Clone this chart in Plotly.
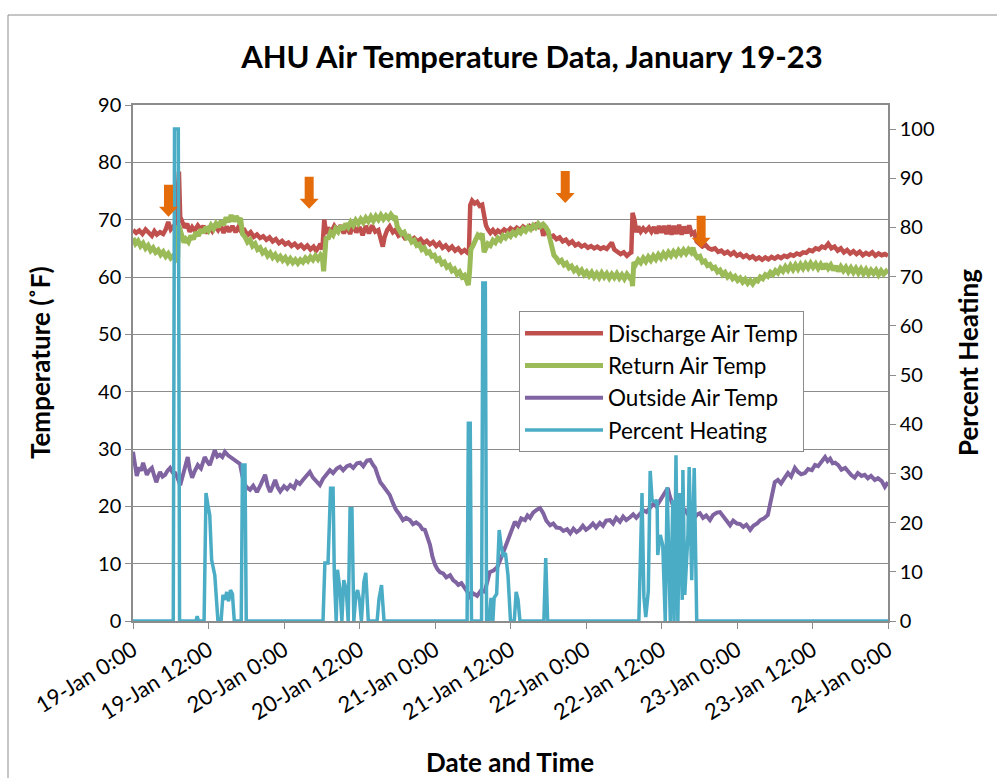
import pandas as pd
import plotly.graph_objects as go

START = pd.Timestamp("2014-01-19 00:00")

# ---- data: (hours after 19-Jan 0:00, value) ----
discharge = [(0,68.2),(0.5,67.7),(1,68.1),(1.5,67.5),(2,68.3),(2.5,67.6),(3,67.2),(3.4,68.0),(3.8,67.4),(4.3,67.8),(4.8,67.5),(5.2,68.3),(5.6,69.6),(6.0,68.3),(6.4,68.8),(6.8,68.2),(7.1,75.0),(7.3,78.4),(7.5,70.5),(7.8,69.4),(8.2,68.6),(8.6,69.3),(9.0,67.9),(9.4,68.7),(9.8,68.1),(10.3,69.0),(10.8,68.3),(11.2,68.9),(11.7,67.6),(12.1,68.8),(12.6,68.0),(13.0,68.9),(13.5,68.2),(13.9,69.1),(14.4,67.7),(14.9,68.8),(15.3,67.9),(15.8,68.9),(16.3,67.8),(16.7,68.6),(17.2,67.9),(17.7,68.2),(18.2,67.3),(18.7,67.8),(19.2,67.0),(19.7,67.4),(20.2,66.8),(20.7,67.1),(21.2,66.5),(21.7,66.9),(22.2,66.2),(22.7,66.6),(23.2,65.9),(23.7,66.3),(24.2,65.7),(24.7,66.0),(25.2,65.4),(25.7,65.8),(26.2,65.2),(26.7,65.6),(27.2,65.0),(27.7,65.5),(28.2,64.8),(28.7,65.3),(29.1,64.6),(29.5,65.2),(29.8,65.8),(30.1,64.8),(30.4,70.0),(30.7,67.5),(31.0,68.6),(31.5,67.8),(32.0,68.9),(32.5,68.1),(33.0,69.0),(33.5,67.6),(34.0,68.8),(34.5,67.5),(35.0,69.1),(35.5,67.8),(36.0,68.7),(36.5,67.3),(37.0,68.9),(37.5,67.6),(38.0,69.0),(38.5,67.9),(39.0,68.2),(39.4,66.5),(39.7,65.3),(40.0,67.0),(40.4,68.2),(40.8,68.8),(41.3,67.8),(41.7,68.2),(42.2,67.2),(42.7,67.6),(43.2,66.8),(43.7,67.1),(44.2,66.4),(44.7,66.8),(45.2,66.2),(45.7,66.6),(46.2,65.9),(46.7,66.3),(47.2,65.7),(47.7,66.1),(48.2,65.4),(48.7,65.9),(49.2,65.1),(49.7,65.5),(50.2,64.8),(50.7,65.3),(51.2,64.6),(51.7,65.0),(52.2,64.3),(52.7,64.7),(53.1,64.3),(53.4,64.8),(53.6,72.5),(53.9,73.3),(54.3,72.8),(54.7,73.1),(55.1,72.4),(55.5,72.6),(55.8,70.8),(56.1,69.0),(56.4,68.3),(56.8,67.7),(57.2,68.2),(57.6,67.6),(58.0,68.1),(58.5,67.7),(59.0,68.3),(59.5,67.9),(60.0,68.5),(60.5,68.1),(61.0,68.6),(61.5,68.2),(62.0,68.8),(62.5,68.4),(63.0,68.9),(63.5,68.5),(64.0,69.1),(64.5,68.7),(64.9,69.0),(65.2,67.2),(65.5,68.2),(65.9,67.4),(66.3,67.0),(66.8,67.2),(67.3,66.6),(67.8,66.9),(68.3,66.2),(68.8,66.5),(69.3,65.8),(69.8,66.2),(70.3,65.5),(70.8,65.8),(71.3,65.3),(71.8,65.6),(72.3,65.1),(72.8,65.4),(73.3,65.0),(73.8,65.3),(74.3,64.9),(74.8,65.2),(75.3,64.9),(75.8,65.6),(76.1,66.0),(76.5,64.8),(77.0,64.4),(77.5,64.0),(78.0,64.3),(78.5,63.7),(78.9,64.1),(79.2,64.3),(79.4,71.2),(79.7,70.0),(80.0,67.8),(80.3,68.8),(80.7,67.9),(81.1,68.5),(81.5,68.0),(82.0,68.6),(82.4,67.9),(82.8,68.7),(83.2,67.6),(83.6,68.9),(84.0,67.7),(84.4,68.9),(84.8,67.5),(85.2,69.0),(85.6,67.4),(86.0,68.9),(86.4,67.5),(86.8,69.1),(87.2,67.4),(87.6,68.8),(88.0,67.6),(88.4,69.0),(88.8,67.5),(89.2,67.8),(89.6,66.2),(90.0,65.9),(90.5,65.3),(91.0,65.6),(91.5,65.0),(92.0,64.8),(92.5,65.0),(93.0,64.4),(93.5,64.6),(94.0,64.1),(94.5,64.4),(95.0,63.9),(95.5,64.3),(96.0,63.7),(96.5,64.0),(97.0,63.5),(97.5,63.8),(98.0,63.3),(98.5,63.6),(99.0,63.1),(99.5,63.4),(100.0,63.0),(100.5,63.4),(101.0,63.1),(101.5,63.5),(102.0,63.2),(102.5,63.6),(103.0,63.3),(103.5,63.7),(104.0,63.5),(104.5,63.9),(105.0,63.7),(105.5,64.1),(106.0,63.9),(106.5,64.3),(107.0,64.2),(107.5,64.7),(108.0,64.5),(108.5,65.0),(109.0,64.8),(109.5,65.3),(110.0,65.1),(110.5,65.8),(111.0,65.0),(111.5,65.3),(112.0,64.6),(112.5,65.0),(113.0,64.3),(113.5,64.7),(114.0,64.1),(114.5,64.5),(115.0,64.0),(115.5,64.4),(116.0,63.8),(116.5,64.2),(117.0,63.9),(117.5,64.3),(118.0,63.7),(118.5,64.1),(119.0,63.8),(119.5,64.0),(120.0,63.7)]

return_air = [(0,66.8),(0.4,65.8),(0.8,66.3),(1.2,65.4),(1.6,65.9),(2.0,65.0),(2.4,65.5),(2.8,64.6),(3.2,65.1),(3.6,64.3),(4.0,64.7),(4.4,63.9),(4.8,64.4),(5.2,63.6),(5.6,64.1),(6.0,63.3),(6.4,63.7),(6.8,63.0),(7.1,63.4),(7.25,69.0),(7.5,68.2),(7.8,66.8),(8.1,66.0),(8.4,66.6),(8.8,66.1),(9.2,67.2),(9.6,66.6),(10.0,67.8),(10.4,67.2),(10.8,68.3),(11.2,67.7),(11.6,68.7),(12.0,68.1),(12.4,69.0),(12.8,68.4),(13.2,69.3),(13.6,68.7),(14.0,69.8),(14.4,69.1),(14.8,70.4),(15.2,69.6),(15.6,70.8),(16.0,69.7),(16.4,70.6),(16.8,69.8),(17.1,70.3),(17.4,67.5),(17.8,67.0),(18.2,66.1),(18.6,66.5),(19.0,65.4),(19.4,65.8),(19.8,64.8),(20.2,65.1),(20.6,64.2),(21.0,64.6),(21.4,63.7),(21.8,64.2),(22.2,63.4),(22.6,63.9),(23.0,63.1),(23.4,63.6),(23.8,62.9),(24.2,63.4),(24.6,62.6),(25.0,63.2),(25.4,62.5),(25.8,63.0),(26.2,62.4),(26.6,63.0),(27.0,62.6),(27.4,63.3),(27.8,62.8),(28.2,63.5),(28.6,63.0),(29.0,63.7),(29.4,63.1),(29.8,63.8),(30.1,63.3),(30.3,61.0),(30.5,64.5),(30.7,67.0),(31.0,66.6),(31.4,67.8),(31.8,67.3),(32.2,68.4),(32.6,67.9),(33.0,68.9),(33.4,68.3),(33.8,69.3),(34.2,68.7),(34.6,69.6),(35.0,69.0),(35.4,69.9),(35.8,69.3),(36.2,70.1),(36.6,69.5),(37.0,70.3),(37.4,69.7),(37.8,70.5),(38.2,69.8),(38.6,70.6),(39.0,70.0),(39.4,70.8),(39.8,70.1),(40.2,70.7),(40.6,70.2),(41.0,70.9),(41.4,70.3),(41.7,70.6),(42.0,68.8),(42.3,68.0),(42.7,67.5),(43.1,67.8),(43.5,66.8),(43.9,67.0),(44.3,66.1),(44.7,66.4),(45.1,65.5),(45.5,65.7),(45.9,64.8),(46.3,65.1),(46.7,64.2),(47.1,64.4),(47.5,63.6),(47.9,63.8),(48.3,62.9),(48.7,63.2),(49.1,62.3),(49.5,62.6),(49.9,61.7),(50.3,62.0),(50.7,61.1),(51.1,61.4),(51.5,60.5),(51.9,60.9),(52.3,60.0),(52.7,60.3),(53.0,59.3),(53.3,58.6),(53.5,61.0),(53.7,64.8),(54.0,65.4),(54.4,66.3),(54.8,67.3),(55.2,66.9),(55.5,67.6),(55.8,64.3),(56.1,65.1),(56.4,65.8),(56.8,65.5),(57.2,66.4),(57.6,66.0),(58.0,66.8),(58.4,66.4),(58.8,67.2),(59.2,66.8),(59.6,67.5),(60.0,67.1),(60.4,67.8),(60.8,67.4),(61.2,68.1),(61.6,67.7),(62.0,68.4),(62.4,68.0),(62.8,68.7),(63.2,68.3),(63.6,69.0),(64.0,68.6),(64.4,69.3),(64.8,68.8),(65.2,69.2),(65.6,68.7),(66.0,68.0),(66.3,66.5),(66.6,65.0),(66.9,63.8),(67.3,63.3),(67.7,62.6),(68.1,62.9),(68.5,62.1),(68.9,62.4),(69.3,61.6),(69.7,61.9),(70.1,61.1),(70.5,61.5),(70.9,60.7),(71.3,61.2),(71.7,60.4),(72.1,60.9),(72.5,60.2),(72.9,60.8),(73.3,60.0),(73.7,60.6),(74.1,59.9),(74.5,60.7),(74.9,60.0),(75.3,60.6),(75.7,59.8),(76.1,60.5),(76.5,59.9),(76.9,60.6),(77.3,59.8),(77.7,60.4),(78.1,59.7),(78.5,60.5),(78.9,59.9),(79.2,60.2),(79.4,58.4),(79.6,62.6),(79.9,62.2),(80.3,63.0),(80.7,62.5),(81.1,63.3),(81.5,62.7),(81.9,63.5),(82.3,62.9),(82.7,63.7),(83.1,63.1),(83.5,63.9),(83.9,63.3),(84.3,64.1),(84.7,63.5),(85.1,64.3),(85.5,63.7),(85.9,64.4),(86.3,63.8),(86.7,64.6),(87.1,64.0),(87.5,64.7),(87.9,64.1),(88.3,64.8),(88.7,64.3),(89.0,65.1),(89.3,64.0),(89.7,63.4),(90.1,63.6),(90.5,62.6),(90.9,62.8),(91.3,62.0),(91.7,62.2),(92.1,61.5),(92.5,61.7),(92.9,60.9),(93.3,61.2),(93.7,60.4),(94.1,60.8),(94.5,60.0),(94.9,60.4),(95.3,59.7),(95.7,60.1),(96.1,59.4),(96.5,59.8),(96.9,59.1),(97.3,59.6),(97.7,58.9),(98.1,59.4),(98.5,58.8),(98.9,59.5),(99.3,59.3),(99.7,60.0),(100.1,59.7),(100.5,60.4),(100.9,60.1),(101.3,60.8),(101.7,60.4),(102.1,61.1),(102.5,60.7),(102.9,61.5),(103.3,61.0),(103.7,61.8),(104.1,61.2),(104.5,62.0),(104.9,61.3),(105.3,62.1),(105.7,61.4),(106.1,62.2),(106.5,61.5),(106.9,62.3),(107.3,61.6),(107.7,62.4),(108.1,61.7),(108.5,62.3),(108.9,61.5),(109.3,62.2),(109.7,61.4),(110.1,62.3),(110.5,61.5),(110.9,62.1),(111.3,61.2),(111.7,61.9),(112.1,61.0),(112.5,61.8),(112.9,61.1),(113.3,61.7),(113.7,60.9),(114.1,61.6),(114.5,60.8),(114.9,61.5),(115.3,60.7),(115.7,61.4),(116.1,60.6),(116.5,61.3),(116.9,60.5),(117.3,61.2),(117.7,60.6),(118.1,61.2),(118.5,60.4),(118.9,61.1),(119.3,60.5),(119.7,61.0),(120,60.6)]

outside_air = [(0,29.5),(0.3,27.0),(0.6,25.3),(1.0,26.8),(1.3,26.2),(1.6,27.6),(1.9,26.5),(2.2,25.5),(2.6,26.3),(3.0,26.7),(3.3,25.6),(3.7,24.2),(4.0,25.2),(4.3,26.0),(4.7,25.2),(5.1,25.5),(5.5,26.2),(5.9,26.7),(6.3,25.9),(6.7,25.8),(7.1,24.9),(7.5,23.7),(7.9,25.3),(8.3,27.2),(8.7,28.6),(9.0,26.5),(9.4,25.0),(9.8,26.1),(10.3,27.2),(10.8,26.6),(11.4,28.6),(11.8,27.8),(12.2,27.2),(12.6,28.5),(13.0,29.8),(13.4,28.7),(13.8,29.0),(14.2,28.6),(14.6,29.5),(15.1,28.9),(15.7,28.4),(16.3,28.0),(17.0,27.4),(17.4,25.2),(17.8,23.7),(18.2,23.2),(18.6,22.9),(19.1,23.6),(19.7,22.5),(20.3,23.8),(21.0,25.5),(21.4,23.6),(21.8,22.5),(22.2,23.5),(22.6,24.6),(23.0,23.3),(23.4,22.6),(24.0,23.5),(24.5,23.0),(25.0,23.7),(25.6,23.2),(26.0,24.3),(26.5,23.9),(27.0,24.6),(27.5,25.2),(28.1,26.0),(28.6,25.0),(29.1,24.3),(29.7,23.7),(30.2,24.8),(30.7,25.4),(31.3,26.3),(31.8,25.8),(32.4,26.6),(32.9,26.9),(33.4,26.3),(34.0,27.0),(34.5,27.2),(35.0,26.7),(35.6,27.5),(36.1,27.6),(36.6,27.0),(37.2,28.0),(37.7,28.1),(38.1,27.3),(38.5,26.7),(38.9,25.4),(39.3,24.2),(39.8,23.5),(40.3,22.6),(40.8,22.0),(41.3,20.6),(41.8,19.4),(42.4,18.5),(42.9,17.6),(43.4,18.0),(44.0,17.6),(44.5,16.9),(45.0,17.2),(45.6,16.7),(46.0,16.0),(46.4,15.9),(46.8,14.8),(47.2,13.3),(47.6,11.2),(48.0,9.8),(48.4,9.0),(48.8,8.5),(49.3,8.3),(49.8,7.6),(50.4,8.0),(50.9,7.1),(51.3,6.8),(51.7,6.3),(52.2,6.6),(52.8,5.8),(53.2,5.0),(53.6,4.2),(54.1,4.8),(54.7,4.4),(55.3,5.3),(55.9,5.1),(56.3,7.0),(56.7,8.5),(57.3,8.8),(57.9,9.4),(58.5,11.0),(59.1,12.7),(59.6,14.5),(60.1,16.0),(60.7,17.3),(61.2,16.6),(61.7,17.9),(62.3,17.6),(62.7,18.4),(63.1,18.0),(63.6,18.9),(64.2,19.4),(64.7,19.7),(65.2,18.8),(65.7,17.5),(66.3,16.7),(66.8,17.0),(67.3,16.3),(67.9,16.2),(68.4,15.7),(69.0,16.0),(69.5,15.3),(70.0,16.1),(70.5,15.5),(71.0,15.9),(71.5,16.6),(72.0,15.9),(72.6,16.4),(73.1,17.0),(73.6,16.3),(74.2,17.1),(74.7,16.6),(75.2,17.5),(75.8,17.6),(76.3,17.0),(76.8,18.0),(77.4,17.3),(77.9,18.2),(78.4,17.6),(79.0,18.1),(79.5,18.6),(80.0,18.0),(80.6,18.7),(81.1,19.3),(81.6,19.0),(82.2,19.7),(82.7,20.4),(83.2,20.0),(83.8,21.1),(84.3,22.0),(84.7,22.5),(85.0,23.2),(85.3,21.8),(85.7,20.5),(86.1,20.2),(86.6,19.2),(87.1,19.8),(87.7,19.4),(88.2,18.6),(88.7,18.9),(89.3,18.1),(89.7,18.6),(90.1,18.8),(90.6,18.0),(91.1,18.4),(91.7,17.6),(92.2,18.5),(92.8,18.9),(93.3,19.0),(93.8,18.2),(94.4,17.2),(94.9,16.7),(95.4,17.5),(96.0,17.0),(96.5,16.9),(97.0,16.4),(97.5,16.8),(98.1,15.9),(98.6,16.6),(99.2,17.0),(99.7,17.6),(100.3,17.9),(100.9,18.5),(101.3,20.5),(101.7,23.0),(102.0,24.2),(102.5,24.6),(103.0,24.0),(103.6,25.0),(104.1,25.8),(104.6,25.2),(105.2,26.7),(105.7,26.0),(106.2,25.6),(106.8,25.8),(107.3,26.5),(107.9,26.3),(108.4,27.2),(108.9,27.0),(109.4,27.8),(110.0,28.6),(110.4,27.9),(110.8,28.3),(111.2,27.5),(111.6,27.6),(112.1,27.2),(112.6,26.4),(113.2,26.7),(113.7,25.9),(114.2,25.4),(114.7,25.0),(115.2,25.8),(115.8,25.3),(116.3,25.5),(116.8,24.9),(117.3,25.3),(117.9,24.6),(118.4,24.9),(119.0,24.4),(119.5,23.4),(120,24.2)]

percent_heating = [(0,0),(6.4,0),(6.6,100),(7.2,100),(7.4,0),(10.0,0),(10.2,1.0),(10.4,0),(11.3,0),(11.6,26.0),(11.9,23.6),(12.2,21.5),(12.5,12.4),(13.0,9.3),(13.5,0),(14.0,0),(14.3,5.3),(14.6,4.3),(14.9,5.9),(15.2,4.0),(15.5,6.3),(15.8,5.5),(16.1,0),(17.2,0),(17.4,31.7),(17.8,31.7),(18.0,0),(30.2,0),(30.5,11.8),(31.0,11.8),(31.4,27.0),(31.8,27.0),(32.0,9.3),(32.3,0),(32.5,10.4),(32.9,6.3),(33.2,0),(33.5,8.3),(33.9,6.3),(34.2,0),(34.5,22.8),(34.8,22.8),(35.1,0),(35.4,4.9),(35.7,6.3),(36.0,4.3),(36.3,0),(36.7,8.0),(37.0,9.8),(37.4,0),(38.8,0),(39.1,4.5),(39.5,7.3),(39.9,0),(53.1,0),(53.3,40.2),(53.6,40.2),(53.8,0),(55.4,0),(55.6,68.7),(56.0,68.7),(56.2,0),(56.6,0),(56.9,4.7),(57.2,0),(57.4,4.7),(57.8,5.5),(58.2,18.5),(58.5,15.4),(58.8,13.4),(59.2,13.8),(59.6,9.3),(60.0,0),(60.6,0),(60.9,5.9),(61.2,4.3),(61.5,0),(65.3,0),(65.6,12.8),(65.9,0),(80.4,0),(80.9,26.0),(81.2,5.0),(81.5,0.8),(81.9,6.0),(82.2,30.5),(82.5,24.6),(83.0,24.2),(83.3,24.6),(83.4,13.4),(83.8,17.5),(84.2,15.4),(84.6,0),(84.9,27.2),(85.4,0),(85.8,24.6),(86.0,0),(86.3,33.7),(86.6,0),(86.9,26.0),(87.3,4.3),(87.4,30.7),(87.7,5.3),(88.2,17.5),(88.4,31.3),(88.8,8.3),(89.2,31.1),(89.6,0),(120,0)]

# orange arrow callouts: (hour, temperature at arrow tip)
arrows = [(5.64, 70.5), (28.0, 71.9), (68.7, 72.9), (90.3, 65.1)]

y_ticks = list(range(0, 91, 10))
y2_ticks = list(range(0, 101, 10))


def xs(series):
    return [START + pd.Timedelta(hours=h) for h, _ in series]


def ys(series):
    return [v for _, v in series]


FONT = "Lato"
GRID = "#8c8c8c"

fig = go.Figure()
fig.add_trace(go.Scatter(x=xs(discharge), y=ys(discharge), name="Discharge Air Temp", mode="lines",
                         line=dict(color="#C0504D", width=4.5)))
fig.add_trace(go.Scatter(x=xs(return_air), y=ys(return_air), name="Return Air Temp", mode="lines",
                         line=dict(color="#9BBB59", width=5)))
fig.add_trace(go.Scatter(x=xs(outside_air), y=ys(outside_air), name="Outside Air Temp", mode="lines",
                         line=dict(color="#8064A2", width=4)))
fig.add_trace(go.Scatter(x=xs(percent_heating), y=ys(percent_heating), name="Percent Heating", mode="lines",
                         line=dict(color="#4BACC6", width=3.5), yaxis="y2"))

ARROW_PATH = "M0,0 L-9.5,10 L-4.5,10 L-4.5,32 L4.5,32 L4.5,10 L9.5,10 Z"
for h, tip in arrows:
    fig.add_shape(type="path", xref="x", yref="y",
                  xsizemode="pixel", ysizemode="pixel",
                  xanchor=START + pd.Timedelta(hours=h), yanchor=tip,
                  path=ARROW_PATH, fillcolor="#E46C0A", line=dict(width=0))

fig.update_layout(
    width=997, height=778,
    margin=dict(l=133, r=109, t=105, b=157),
    paper_bgcolor="white", plot_bgcolor="white",
    font=dict(family=FONT, size=20, color="black"),
    showlegend=True,
    title=dict(text="<b>AHU Air Temperature Data, January 19-23</b>",
               x=(532 - 133) / 755, xref="paper", xanchor="center",
               y=1 - 57 / 778, yanchor="middle",
               font=dict(family=FONT, size=31, color="black")),
    legend=dict(x=(519 - 133) / 755, y=(621 - 311) / 516, xanchor="left", yanchor="top",
                bordercolor=GRID, borderwidth=1, bgcolor="white", itemwidth=78,
                font=dict(family=FONT, size=22.5), tracegroupgap=0),
    xaxis=dict(type="date", range=[START, START + pd.Timedelta(hours=120)],
               tick0=START, dtick=12 * 3600 * 1000, tickformat="%d-%b %-H:%M",
               tickangle=-32, ticks="outside", ticklen=6, tickcolor=GRID,
               showline=True, linecolor=GRID, linewidth=1.5, mirror=True,
               showgrid=False, zeroline=False,
               tickfont=dict(family=FONT, size=22)),
    yaxis=dict(range=[0, 90], tickvals=y_ticks, ticks="outside", ticklen=6, tickcolor=GRID,
               showline=True, linecolor=GRID, linewidth=1.5, mirror=False,
               showgrid=True, gridcolor=GRID, gridwidth=1, zeroline=False,
               tickfont=dict(family=FONT, size=20)),
    yaxis2=dict(range=[0, 100 * 516 / 492], tickvals=y2_ticks, overlaying="y", side="right",
                ticks="outside", ticklen=6, tickcolor=GRID,
                showline=True, linecolor=GRID, linewidth=1.5,
                showgrid=False, zeroline=False,
                tickfont=dict(family=FONT, size=20)),
)

# axis titles
fig.add_annotation(text="<b>Temperature (˚F)</b>", xref="paper", yref="paper",
                   x=(40 - 133) / 755, y=0.5, textangle=-90, showarrow=False,
                   xanchor="center", yanchor="middle", font=dict(family=FONT, size=26))
fig.add_annotation(text="<b>Percent Heating</b>", xref="paper", yref="paper",
                   x=(968 - 133) / 755, y=0.5, textangle=-90, showarrow=False,
                   xanchor="center", yanchor="middle", font=dict(family=FONT, size=26))
fig.add_annotation(text="<b>Date and Time</b>", xref="paper", yref="paper",
                   x=(510 - 133) / 755, y=(621 - 762) / 516, showarrow=False,
                   xanchor="center", yanchor="middle", font=dict(family=FONT, size=26))

# outer chart frame (left & top edges visible)
fig.add_shape(type="line", xref="paper", yref="paper",
              x0=(8 - 133) / 755, x1=(8 - 133) / 755, y0=(621 - 15) / 516, y1=(621 - 800) / 516,
              line=dict(color="#8c8c8c", width=1))
fig.add_shape(type="line", xref="paper", yref="paper",
              x0=(8 - 133) / 755, x1=(1000 - 133) / 755, y0=(621 - 15) / 516, y1=(621 - 15) / 516,
              line=dict(color="#8c8c8c", width=1))

fig.write_html("out.html")
